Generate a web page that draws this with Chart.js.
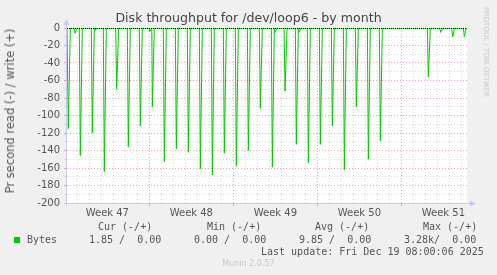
<!DOCTYPE html>
<html>
<head>
<meta charset="utf-8">
<script src="https://cdn.jsdelivr.net/npm/chart.js@4"></script>
<style>
  body { margin: 0; background: #f0f0f0; }
  #wrap { position: relative; width: 497px; height: 275px; overflow: hidden; }
  canvas { position: absolute; left: 0; top: 0; }
  .t { position: absolute; white-space: pre; line-height: 12px; color: #555; }
  .mono { font: 10px "DejaVu Sans Mono", monospace; }
  .sans { font-family: "DejaVu Sans", sans-serif; }
</style>
</head>
<body>
<div id="wrap">
  <canvas id="chart" width="497" height="275"></canvas>
  <div class="t sans" id="title" style="left:0;width:497px;text-align:center;top:11px;font-size:12.6px;line-height:14px;color:#444;">Disk throughput for /dev/loop6 - by month</div>
  <div class="t sans" style="left:10px;top:111px;font-size:11.5px;transform:translate(-50%,-50%) rotate(-90deg);">Pr second read (-) / write (+)</div>
  <div class="t sans" style="left:486px;top:52px;font-size:7px;color:#c8c8c8;transform:translate(-50%,-50%) rotate(90deg);">RRDTOOL / TOBI OETIKER</div>

  <div class="t mono" style="left:98px;top:221px;">Cur (-/+)</div>
  <div class="t mono" style="left:207px;top:221px;">Min (-/+)</div>
  <div class="t mono" style="left:315px;top:221px;">Avg (-/+)</div>
  <div class="t mono" style="left:423px;top:221px;">Max (-/+)</div>

  <div style="position:absolute;left:14px;top:237px;width:6px;height:6px;background:#00cc00;"></div>
  <div class="t mono" style="left:27px;top:234px;">Bytes</div>
  <div class="t mono" style="left:89px;top:234px;">1.85 /  0.00</div>
  <div class="t mono" style="left:194px;top:234px;">0.00 /  0.00</div>
  <div class="t mono" style="left:299px;top:234px;">9.85 /  0.00</div>
  <div class="t mono" style="left:404px;top:234px;">3.28k/  0.00</div>
  <div class="t mono" style="left:261px;top:246px;">Last update: Fri Dec 19 08:00:06 2025</div>
  <div class="t sans" style="left:0;width:497px;text-align:center;top:258px;font-size:8px;color:#c8c8c8;">Munin 2.0.57</div>
</div>
<script>
// time axis in days from the left edge of the plot (2h samples = 1/12 day)
const rangeDays = 33.33;
const weekLabels = ['Week 47', 'Week 48', 'Week 49', 'Week 50', 'Week 51'];
const weekCenters = [3.36, 10.36, 17.36, 24.36, 31.36];
const weekStarts = [6.86, 13.86, 20.86, 27.86];

// daily read peaks (bytes/s, negative = read)
const spikeDays = [0.11, 1.11, 2.11, 3.11, 4.14, 5.11, 6.11, 7.11, 8.11, 9.11,
  10.11, 11.11, 12.11, 13.11, 14.11, 15.11, 16.11, 17.11, 18.17, 19.11,
  20.11, 21.11, 22.11, 23.11, 24.11, 25.11, 26.11, 30.11, 32.14, 33.11];
const spikeValues = [-115, -146, -120, -164, -70, -136, -112, -90, -153, -138,
  -142, -161, -168, -143, -158, -140, -92, -159, -72, -133,
  -154, -133, -112, -162, -90, -150, -129, -56, -10, -10];
// small bumps
const bumpDays = [0.67, 2.33, 6.9, 17.33, 19.33, 31.14];
const bumpValues = [-6, -3, -4, -5, -5, -5];

const sample = 1 / 12;
const events = [];
spikeDays.forEach((d, i) => events.push([d, spikeValues[i]]));
bumpDays.forEach((d, i) => events.push([d, bumpValues[i]]));
events.sort((a, b) => a[0] - b[0]);

const readPoints = [{ x: 0, y: 0 }];
events.forEach(([d, v]) => {
  readPoints.push({ x: d - sample, y: 0 });
  readPoints.push({ x: d, y: v });
  readPoints.push({ x: d + 2 * sample, y: 0 });
});
readPoints.push({ x: rangeDays, y: 0 });

// daily grid lines
const dayLines = [];
for (let k = 0; k < 33; k++) dayLines.push(+(0.86 + k).toFixed(2));
const xTicks = dayLines.concat(weekCenters).sort((a, b) => a - b);

const majorRed = 'rgba(225,140,140,0.8)';
const minorGrey = '#d4d4d4';
const axisBlue = '#c8c8f0';

const munin = {
  id: 'munin',
  beforeDraw(chart) {
    const { ctx, chartArea: a } = chart;
    ctx.save();
    ctx.fillStyle = '#fff';
    ctx.fillRect(a.left, a.top, a.right - a.left, a.bottom - a.top);
    ctx.restore();
  },
  afterDatasetsDraw(chart) {
    const { ctx, chartArea: a } = chart;
    ctx.save();
    // zero line
    ctx.strokeStyle = '#000';
    ctx.lineWidth = 1;
    ctx.setLineDash([1, 1]);
    ctx.beginPath();
    ctx.moveTo(a.left, a.top + 0.5);
    ctx.lineTo(a.right, a.top + 0.5);
    ctx.stroke();
    ctx.setLineDash([]);
    // axes with arrows
    ctx.strokeStyle = axisBlue;
    ctx.beginPath();
    ctx.moveTo(a.left - 0.5, a.bottom + 3);
    ctx.lineTo(a.left - 0.5, a.top - 4);
    ctx.moveTo(a.left - 3, a.bottom + 0.5);
    ctx.lineTo(a.right + 4, a.bottom + 0.5);
    ctx.stroke();
    ctx.fillStyle = axisBlue;
    ctx.beginPath();
    ctx.moveTo(a.left - 3.5, a.top - 3);
    ctx.lineTo(a.left + 2.5, a.top - 3);
    ctx.lineTo(a.left - 0.5, a.top - 9);
    ctx.closePath();
    ctx.fill();
    ctx.beginPath();
    ctx.moveTo(a.right + 3, a.bottom - 2.5);
    ctx.lineTo(a.right + 3, a.bottom + 3.5);
    ctx.lineTo(a.right + 9, a.bottom + 0.5);
    ctx.closePath();
    ctx.fill();
    ctx.restore();
  }
};

new Chart(document.getElementById('chart').getContext('2d'), {
  type: 'line',
  data: {
    datasets: [{
      label: 'Bytes',
      data: readPoints,
      borderColor: '#00cc00',
      borderWidth: 1,
      pointRadius: 0,
      tension: 0,
      fill: false
    }]
  },
  options: {
    responsive: false,
    animation: false,
    events: [],
    layout: { padding: { top: 28, right: 30, left: 0, bottom: 0 } },
    plugins: { legend: { display: false }, tooltip: { enabled: false } },
    scales: {
      x: {
        type: 'linear',
        min: 0,
        max: rangeDays,
        afterFit: (s) => { s.height = 72; },
        afterBuildTicks: (s) => { s.ticks = xTicks.map((v) => ({ value: v })); },
        border: { display: false, dash: [1, 2] },
        grid: {
          tickLength: 3,
          color: (c) => {
            const v = c.tick && c.tick.value;
            if (weekCenters.includes(v)) return 'transparent';
            return weekStarts.includes(v) ? majorRed : minorGrey;
          },
          tickColor: (c) => {
            const v = c.tick && c.tick.value;
            return weekStarts.includes(v) ? majorRed : 'transparent';
          }
        },
        ticks: {
          autoSkip: false,
          maxRotation: 0,
          padding: 1,
          color: '#555',
          font: { family: 'DejaVu Sans', size: 10 },
          callback: (v) => {
            const i = weekCenters.indexOf(v);
            return i >= 0 ? weekLabels[i] : '';
          }
        }
      },
      y: {
        min: -200,
        max: 0,
        afterFit: (s) => { s.width = 67; },
        border: { display: false, dash: [1, 2] },
        grid: {
          tickLength: 3,
          color: (c) => {
            const v = c.tick && c.tick.value;
            if (v === 0) return 'transparent';
            return v % 20 === 0 ? majorRed : minorGrey;
          },
          tickColor: (c) => {
            const v = c.tick && c.tick.value;
            return v % 20 === 0 ? majorRed : minorGrey;
          }
        },
        ticks: {
          stepSize: 10,
          autoSkip: false,
          padding: 4,
          color: '#555',
          font: { family: 'DejaVu Sans', size: 10 },
          callback: (v) => (v % 20 === 0 ? String(v) : '')
        }
      }
    }
  },
  plugins: [munin]
});
</script>
</body>
</html>
